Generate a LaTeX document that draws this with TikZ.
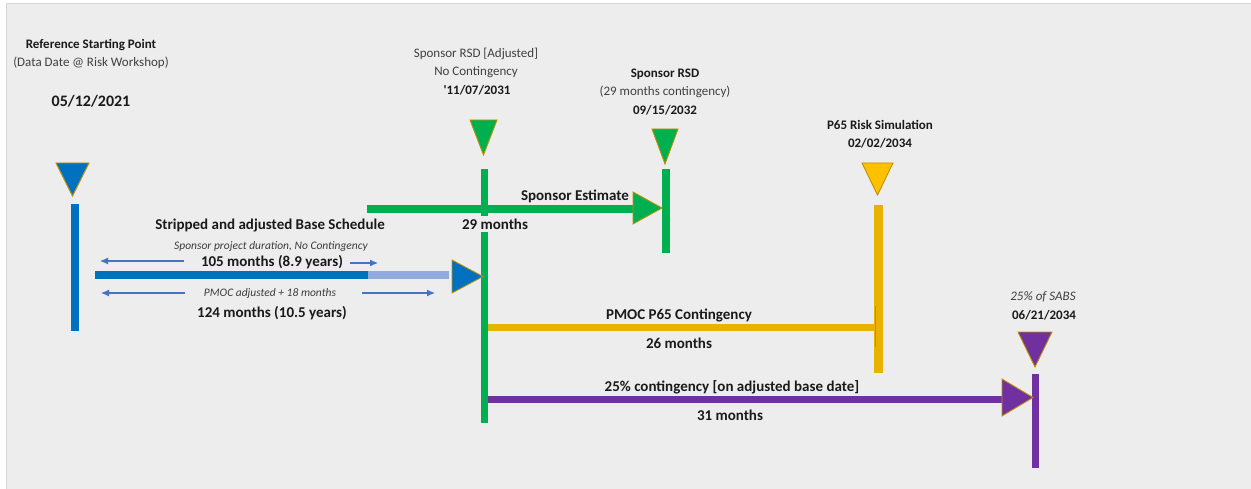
\documentclass[tikz,border=0pt]{standalone}
\usepackage{fontspec}
\setmainfont{Carlito}
\usetikzlibrary{arrows.meta}
\definecolor{bg}{HTML}{EDEDED}
\definecolor{frame}{HTML}{D6D6D6}
\definecolor{cblue}{HTML}{0070C0}
\definecolor{clblue}{HTML}{8FAADC}
\definecolor{cgreen}{HTML}{00B050}
\definecolor{cyellow}{HTML}{E8B200}
\definecolor{cytri}{HTML}{FFC000}
\definecolor{cpurple}{HTML}{7030A0}
\definecolor{cgold}{HTML}{BF9000}
\definecolor{carrow}{HTML}{4472C4}
\definecolor{tgray}{HTML}{404040}
\definecolor{tdark}{HTML}{1A1A1A}
\tikzset{
  lbl/.style={inner sep=1pt, text=tdark},
  bsmall/.style={lbl, font=\fontsize{13}{15}\selectfont\bfseries},
  rsmall/.style={lbl, text=tgray, font=\fontsize{13}{15}\selectfont},
  ismall/.style={lbl, text=tgray, font=\fontsize{13}{15}\selectfont\itshape},
  bbig/.style={lbl, font=\fontsize{15}{18}\selectfont\bfseries},
  itiny/.style={lbl, text=tdark!85, font=\fontsize{11.5}{13}\selectfont\itshape},
  bar/.style={line width=#1},
  tri/.style={draw=cgold, line width=0.9pt, line join=miter},
  thinarrow/.style={carrow, line width=1.1pt, -{Latex[length=8pt,width=7pt]}},
}
\begin{document}
\begin{tikzpicture}[x=1pt,y=-1pt]
\useasboundingbox (0,0) rectangle (1251,489);
\fill[white] (0,0) rectangle (1251,489);
\fill[bg] (6,3) rectangle (1251,489);
\draw[frame, line width=0.8pt] (6.4,489) -- (6.4,3.4) -- (1251,3.4);

% ---- coordinates ----
\coordinate (bvTop) at (75,204);   \coordinate (bvBot) at (75,331);
\coordinate (bhL) at (95,275);     \coordinate (bhM) at (368,275);  \coordinate (bhR) at (449,275);
\coordinate (gvTop) at (484.5,169); \coordinate (gvBot) at (484.5,423);
\coordinate (ghL) at (367,209);    \coordinate (ghR) at (640,209);
\coordinate (g2Top) at (666,169);  \coordinate (g2Bot) at (666,253);
\coordinate (yvTop) at (878.5,205); \coordinate (yvBot) at (878.5,373);
\coordinate (yhL) at (488,327);    \coordinate (yhR) at (875,327);
\coordinate (ytT) at (875.5,306);  \coordinate (ytB) at (875.5,347);
\coordinate (phL) at (488,399);    \coordinate (phR) at (1010,399);
\coordinate (pvTop) at (1035.5,374); \coordinate (pvBot) at (1035.5,468);

% ---- bars ----
\draw[cblue, bar=8pt] (bvTop) -- (bvBot);
\draw[cblue, bar=8pt] (bhL) -- (bhM);
\draw[clblue, bar=8pt] (bhM) -- (bhR);
\draw[cgreen, bar=7pt] (gvTop) -- (gvBot);
\draw[cgreen, bar=8pt] (ghL) -- (ghR);
\draw[cgreen, bar=8pt] (g2Top) -- (g2Bot);
\draw[cyellow, bar=9pt] (yvTop) -- (yvBot);
\draw[cyellow, bar=7pt] (yhL) -- (yhR);
\draw[cgold, bar=1.8pt] (ytT) -- (ytB);
\draw[cpurple, bar=7pt] (phL) -- (phR);
\draw[cpurple, bar=7pt] (pvTop) -- (pvBot);

% ---- triangles (milestones) ----
\filldraw[tri, fill=cblue] (56,163) -- (89,163) -- (72.5,196) -- cycle;
\filldraw[tri, fill=cgreen] (470,120) -- (497,120) -- (483.5,155) -- cycle;
\filldraw[tri, fill=cgreen] (652,129) -- (678,129) -- (665,164) -- cycle;
\filldraw[tri, fill=cytri] (862,163) -- (893,163) -- (877.5,195) -- cycle;
\filldraw[tri, fill=cpurple] (1018,332) -- (1052,332) -- (1035,367) -- cycle;
\filldraw[tri, fill=cblue] (452,260) -- (452,293) -- (483,276.5) -- cycle;
\filldraw[tri, fill=cgreen] (633,192) -- (633,224) -- (662,208) -- cycle;
\filldraw[tri, fill=cpurple] (1002,379) -- (1002,416) -- (1033,397.5) -- cycle;

% ---- thin duration arrows ----
\coordinate (a1s) at (184,261); \coordinate (a1e) at (100,261);
\coordinate (a2s) at (350,263); \coordinate (a2e) at (378,263);
\coordinate (a3s) at (185,293); \coordinate (a3e) at (101,293);
\coordinate (a4s) at (362,293); \coordinate (a4e) at (435,293);
\draw[thinarrow] (a1s) -- (a1e);
\draw[thinarrow] (a2s) -- (a2e);
\draw[thinarrow] (a3s) -- (a3e);
\draw[thinarrow] (a4s) -- (a4e);

% ---- labels ----
\node[bsmall] (t1) at (91,45) {Reference Starting Point};
\node[rsmall] (t2) at (91,63) {(Data Date @ Risk Workshop)};
\node[lbl, font=\fontsize{16}{19}\selectfont\bfseries] (t3) at (91,101) {05/12/2021};

\node[rsmall] (t4) at (476,54) {Sponsor RSD [Adjusted]};
\node[rsmall] (t5) at (476,72) {No Contingency};
\node[bsmall] (t6) at (477,90) {\textquotesingle 11/07/2031};

\node[bsmall] (t7) at (665,74) {Sponsor RSD};
\node[rsmall] (t8) at (665,92) {(29 months contingency)};
\node[bsmall] (t9) at (665,110) {09/15/2032};

\node[bsmall] (t10) at (880,125) {P65 Risk Simulation};
\node[bsmall] (t11) at (880,143) {02/02/2034};

\node[ismall] (t12) at (1043,297) {25\% of SABS};
\node[bsmall] (t13) at (1044,315) {06/21/2034};

\node[bbig] (t14) at (270,226) {Stripped and adjusted Base Schedule};
\node[itiny] (t15) at (271,246) {Sponsor project duration, No Contingency};
\node[bbig] (t16) at (272,262) {105 months (8.9 years)};
\node[itiny] (t17) at (270,293) {PMOC adjusted + 18 months};
\node[bbig] (t18) at (272,313) {124 months (10.5 years)};

\node[bbig] (t19) at (575,196) {Sponsor Estimate};
\node[bbig, fill=bg, inner xsep=0pt, inner ysep=3pt] (t20) at (495,224) {29 months};

\node[bbig] (t21) at (679,315) {PMOC P65 Contingency};
\node[bbig] (t22) at (679,343) {26 months};
\node[bbig] (t23) at (732,387) {25\% contingency [on adjusted base date]};
\node[bbig] (t24) at (730,415) {31 months};
\end{tikzpicture}
\end{document}
